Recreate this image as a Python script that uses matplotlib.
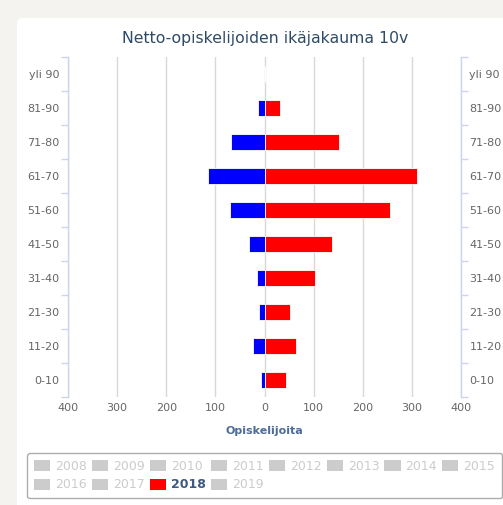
import matplotlib.pyplot as plt
from matplotlib.patches import FancyBboxPatch, Patch
from matplotlib.ticker import FuncFormatter, FixedLocator

age_groups = ['0-10', '11-20', '21-30', '31-40', '41-50',
              '51-60', '61-70', '71-80', '81-90', 'yli 90']
# blue series (drawn to the left) and red series 2018
blue_values = [7, 23, 11, 15, 31, 70, 116, 68, 13, 0]
red_values = [44, 64, 52, 102, 137, 256, 311, 151, 32, 0]
legend_years = ['2008', '2009', '2010', '2011', '2012', '2013',
                '2014', '2015', '2016', '2017', '2018', '2019']
active_year = '2018'

W, H = 503, 505
fig = plt.figure(figsize=(W / 100, H / 100), dpi=100)
fig.patch.set_facecolor('#f4f3ef')

# white card
card = FancyBboxPatch((17 / W, -0.05), 1.05, 1 - 18 / H + 0.05,
                      boxstyle='round,pad=0,rounding_size=0.012',
                      transform=fig.transFigure, facecolor='white',
                      edgecolor='none', zorder=-5)
fig.patches.append(card)

ax = fig.add_axes([68 / W, 1 - 397 / H, 393 / W, 340 / H])
ax.set_zorder(1)
ax.set_facecolor('none')

y = list(range(len(age_groups)))
ax.barh(y, [-v for v in blue_values], height=0.48, color='#0000ff',
        edgecolor='white', linewidth=0.6, zorder=3)
ax.barh(y, red_values, height=0.48, color='#ff0000',
        edgecolor='white', linewidth=0.6, zorder=3)

ax.set_xlim(-400, 400)
ax.set_ylim(-0.5, len(age_groups) - 0.5)
ax.set_xticks(range(-400, 401, 100))
ax.xaxis.set_major_formatter(FuncFormatter(lambda v, p: f'{abs(int(v))}'))
ax.grid(axis='x', color='#d8d8d8', linewidth=1, zorder=0)
ax.tick_params(axis='x', length=0, pad=4, labelsize=8, labelcolor='#666666')

ax.set_yticks(y)
ax.set_yticklabels(age_groups)
ax.yaxis.set_minor_locator(FixedLocator([i - 0.5 for i in range(len(age_groups) + 1)]))
ax.tick_params(axis='y', which='major', length=0, pad=6, labelsize=8,
               labelcolor='#666666', left=True, right=True,
               labelleft=True, labelright=True)
ax.tick_params(axis='y', which='minor', length=5, width=1, color='#ccd6eb',
               left=True, right=True, direction='out')

for side in ['top', 'bottom']:
    ax.spines[side].set_visible(False)
for side in ['left', 'right']:
    ax.spines[side].set_color('#ccd6eb')
    ax.spines[side].set_linewidth(1)

fig.text(265 / W, 1 - 38 / H, 'Netto-opiskelijoiden ikäjakauma 10v',
         ha='center', va='center', fontsize=11.3, color='#2f4a68')
ax.set_xlabel('Opiskelijoita', fontsize=8, fontweight='bold',
              color='#4d6c99', labelpad=10)

# legend, ordered so column-major filling gives row-major look
order = [0, 8, 1, 9, 2, 10, 3, 11, 4, 5, 6, 7]
handles = []
labels = []
for i in order:
    yr = legend_years[i]
    c = '#ff0000' if yr == active_year else '#cccccc'
    handles.append(Patch(facecolor=c, edgecolor='none'))
    labels.append(yr)
leg = fig.legend(handles, labels, ncol=8, loc='upper left',
                 bbox_to_anchor=(27 / W, 1 - 498 / H, 475 / W, 45 / H),
                 mode='expand', fontsize=9, frameon=True,
                 handlelength=1.3, handleheight=0.95, handletextpad=0.4,
                 columnspacing=0.4, labelspacing=0.45, borderpad=0.55,
                 borderaxespad=0, fancybox=True)
leg.get_frame().set_edgecolor('#999999')
leg.get_frame().set_linewidth(1)
for t in leg.get_texts():
    if t.get_text() == active_year:
        t.set_color('#3e5a80')
        t.set_fontweight('bold')
    else:
        t.set_color('#cccccc')

fig.savefig('out.png', dpi=100, facecolor=fig.get_facecolor())
